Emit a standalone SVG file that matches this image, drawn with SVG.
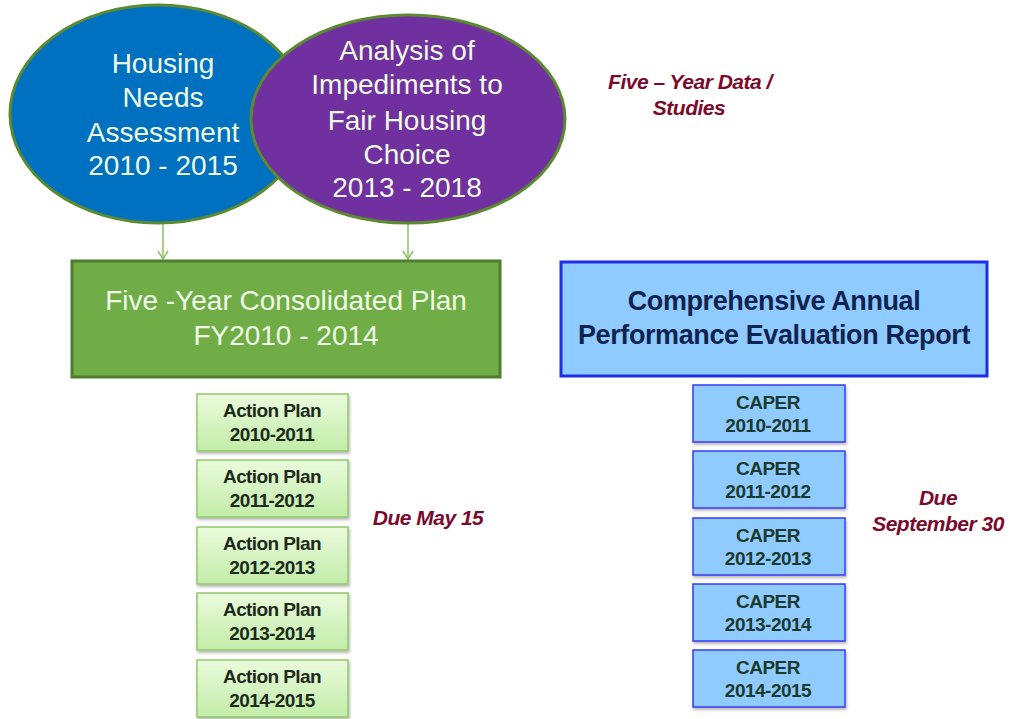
<svg xmlns="http://www.w3.org/2000/svg" width="1012" height="719" viewBox="0 0 1012 719">
<style>
.ell{stroke:#5b8a30;stroke-width:3}
.etxt{font-family:"Liberation Sans",Arial,sans-serif;font-size:28px;fill:#eefbe0;text-anchor:middle}
.big{font-family:"Liberation Sans",Arial,sans-serif;text-anchor:middle}
.ap{fill:url(#gg);stroke:#92c86c;stroke-width:1.5;filter:url(#sh)}
.aptxt{font-family:"Liberation Sans",Arial,sans-serif;font-size:19px;font-weight:bold;fill:#1c2a1c;text-anchor:middle;letter-spacing:-0.6px}
.cp{fill:#8fcbff;stroke:#3a3af5;stroke-width:1.5;filter:url(#sh)}
.cptxt{font-family:"Liberation Sans",Arial,sans-serif;font-size:19px;fill:#1a3a30;text-anchor:middle;font-weight:bold;letter-spacing:-0.5px}
.note{font-family:"Liberation Sans",Arial,sans-serif;font-size:21px;font-weight:bold;font-style:italic;fill:#7a0a2c;text-anchor:middle;letter-spacing:-0.5px}
.conn{stroke:#8cc063;stroke-width:1.5;fill:none}
</style>
<defs>
<linearGradient id="gg" x1="0" y1="0" x2="0" y2="1">
<stop offset="0" stop-color="#eafbdc"/>
<stop offset="1" stop-color="#c2eca8"/>
</linearGradient>
<filter id="sh" x="-10%" y="-10%" width="130%" height="140%">
<feDropShadow dx="1" dy="2" stdDeviation="1.5" flood-color="#000" flood-opacity="0.3"/>
</filter>
<marker id="arr" markerWidth="12" markerHeight="12" refX="10" refY="6" orient="auto" markerUnits="userSpaceOnUse" viewBox="0 0 12 12">
<path d="M2,1 L10,6 L2,11" fill="none" stroke="#8cc063" stroke-width="1.5"/>
</marker>
</defs>
<rect width="1012" height="719" fill="#ffffff"/>
<g id="connectors">
<line class="conn" x1="163" y1="224" x2="163" y2="259" marker-end="url(#arr)"/>
<line class="conn" x1="408" y1="224" x2="408" y2="259" marker-end="url(#arr)"/>
</g>
<g id="housing-needs">
<ellipse class="ell" cx="158" cy="114" rx="148" ry="109" fill="#0070c0"/>
<text class="etxt"><tspan x="163" y="73">Housing</tspan><tspan x="163" y="107">Needs</tspan><tspan x="163" y="142">Assessment</tspan><tspan x="163" y="175">2010 - 2015</tspan></text>
</g>
<g id="impediments">
<ellipse class="ell" cx="408" cy="119" rx="157" ry="104" fill="#7030a0"/>
<text class="etxt"><tspan x="407" y="60">Analysis of</tspan><tspan x="407" y="94">Impediments to</tspan><tspan x="407" y="130">Fair Housing</tspan><tspan x="407" y="164">Choice</tspan><tspan x="407" y="197">2013 - 2018</tspan></text>
</g>
<g id="five-year-data">
<text class="note"><tspan x="690" y="89">Five – Year Data /</tspan><tspan x="689" y="115">Studies</tspan></text>
</g>
<g id="consolidated-plan">
<rect x="72" y="261" width="428" height="116" fill="#70ad47" stroke="#4e7d2f" stroke-width="3"/>
<text class="big" font-size="28" fill="#eefbe6"><tspan x="286" y="310">Five -Year Consolidated  Plan</tspan><tspan x="286" y="345">FY2010 - 2014</tspan></text>
</g>
<g id="caper-main">
<rect x="561" y="262" width="426" height="114" fill="#8fcbff" stroke="#1e2ee6" stroke-width="3"/>
<text class="big" font-size="27" fill="#0f2350" font-weight="bold" style="letter-spacing:-0.4px"><tspan x="774" y="310">Comprehensive Annual</tspan><tspan x="774" y="344">Performance Evaluation  Report</tspan></text>
</g>
<g id="ap1"><rect class="ap" x="197" y="394" width="151" height="57"/><text class="aptxt"><tspan x="272" y="417">Action Plan</tspan><tspan x="272" y="441">2010-2011</tspan></text></g>
<g id="ap2"><rect class="ap" x="197" y="460" width="151" height="57"/><text class="aptxt"><tspan x="272" y="483">Action Plan</tspan><tspan x="272" y="507">2011-2012</tspan></text></g>
<g id="ap3"><rect class="ap" x="197" y="527" width="151" height="57"/><text class="aptxt"><tspan x="272" y="550">Action Plan</tspan><tspan x="272" y="574">2012-2013</tspan></text></g>
<g id="ap4"><rect class="ap" x="197" y="593" width="151" height="57"/><text class="aptxt"><tspan x="272" y="616">Action Plan</tspan><tspan x="272" y="640">2013-2014</tspan></text></g>
<g id="ap5"><rect class="ap" x="197" y="660" width="151" height="57"/><text class="aptxt"><tspan x="272" y="683">Action Plan</tspan><tspan x="272" y="707">2014-2015</tspan></text></g>
<g id="due-may"><text class="note" x="428" y="525">Due May 15</text></g>
<g id="cp1"><rect class="cp" x="693" y="385" width="152" height="57"/><text class="cptxt"><tspan x="768" y="409">CAPER</tspan><tspan x="768" y="432">2010-2011</tspan></text></g>
<g id="cp2"><rect class="cp" x="693" y="451" width="152" height="57"/><text class="cptxt"><tspan x="768" y="475">CAPER</tspan><tspan x="768" y="498">2011-2012</tspan></text></g>
<g id="cp3"><rect class="cp" x="693" y="518" width="152" height="57"/><text class="cptxt"><tspan x="768" y="542">CAPER</tspan><tspan x="768" y="565">2012-2013</tspan></text></g>
<g id="cp4"><rect class="cp" x="693" y="584" width="152" height="57"/><text class="cptxt"><tspan x="768" y="608">CAPER</tspan><tspan x="768" y="631">2013-2014</tspan></text></g>
<g id="cp5"><rect class="cp" x="693" y="650" width="152" height="57"/><text class="cptxt"><tspan x="768" y="674">CAPER</tspan><tspan x="768" y="697">2014-2015</tspan></text></g>
<g id="due-sep"><text class="note"><tspan x="938" y="505">Due</tspan><tspan x="938" y="531">September 30</tspan></text></g>
</svg>
